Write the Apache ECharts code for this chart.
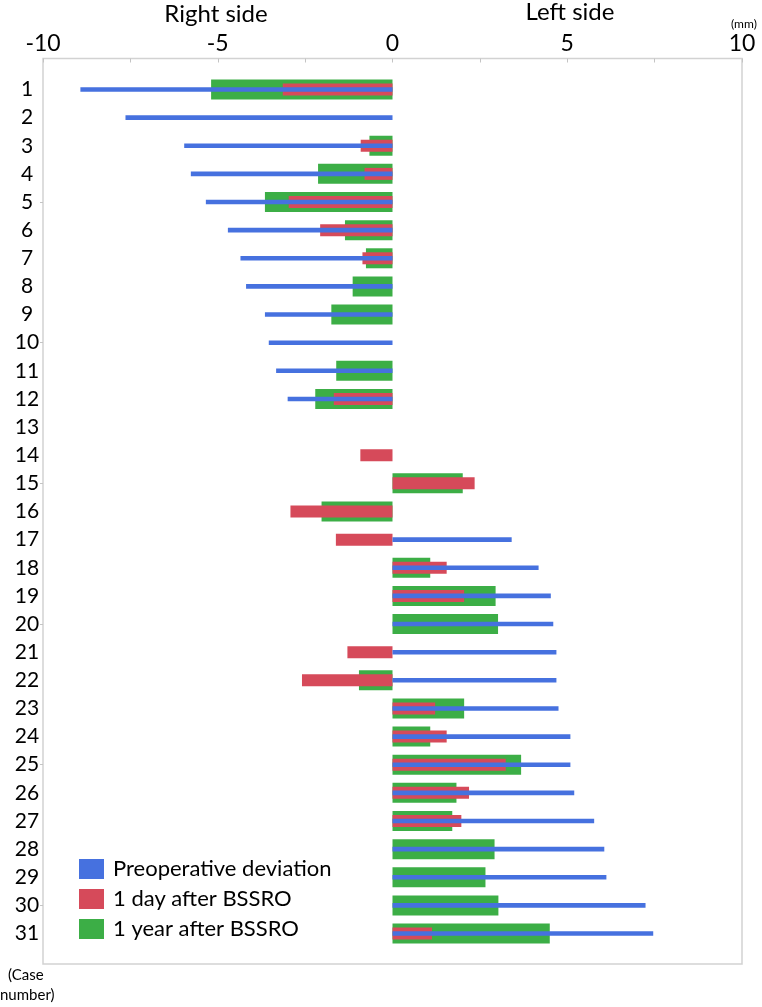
<!DOCTYPE html>
<html>
<head>
<meta charset="utf-8">
<script src="https://cdn.jsdelivr.net/npm/echarts@6/dist/echarts.min.js"></script>
<style>
html,body{margin:0;padding:0;background:#fff;}
#chart{width:762px;height:1007px;}
</style>
</head>
<body>
<div id="chart"></div>
<script>
var cases = ['1','2','3','4','5','6','7','8','9','10','11','12','13','14','15','16','17','18','19','20','21','22','23','24','25','26','27','28','29','30','31'];
var xTicks = [-10, -5, 0, 5, 10];
var preop = [-8.93,-7.64,-5.96,-5.77,-5.34,-4.71,-4.35,-4.19,-3.65,-3.54,-3.33,-3.00,null,null,null,null,3.41,4.18,4.53,4.60,4.69,4.69,4.75,5.09,5.09,5.20,5.77,6.06,6.12,7.24,7.46];
var day1 = [-3.14,null,-0.91,-0.80,-2.97,-2.07,-0.86,null,null,null,null,-1.68,null,-0.92,2.35,-2.92,-1.62,1.55,2.05,null,-1.29,-2.59,1.22,1.55,3.24,2.19,1.97,null,null,null,1.13];
var year1 = [-5.19,null,-0.66,-2.13,-3.65,-1.36,-0.76,-1.14,-1.75,null,-1.61,-2.21,null,null,2.01,-2.03,null,1.08,2.95,3.02,null,-0.96,2.05,1.08,3.68,1.83,1.71,2.92,2.66,3.03,4.50];
var seriesNames = ['Preoperative deviation', '1 day after BSSRO', '1 year after BSSRO'];

var FONT = 'Lato, "Noto Sans", sans-serif';
var BLUE = '#4671df', RED = '#d64a5a', GREEN = '#3cae46';

var chart = echarts.init(document.getElementById('chart'), null, {renderer:'canvas'});
var option = {
  animation: false,
  backgroundColor: '#fff',
  textStyle: {fontFamily: FONT},
  grid: [
    {left: 43, right: 20, top: 58.5, bottom: 43, show: true, borderColor: '#d2d2d2', borderWidth: 1.5, backgroundColor: 'transparent'},
    {left: 43, right: 20, top: 75.4, bottom: 59.4}
  ],
  xAxis: [
    {gridIndex: 0, type: 'value', position: 'top', min: -10, max: 10, interval: 2.5,
     axisLine: {show: false, onZero: false},
     axisTick: {show: true, inside: true, length: 4, lineStyle: {color: '#c4c4c4'}},
     splitLine: {show: false},
     axisLabel: {show: true, fontSize: 23, color: '#000', fontFamily: FONT, margin: 3,
       formatter: function (v) { return xTicks.indexOf(v) >= 0 ? String(v) : ''; }}
    },
    {gridIndex: 1, type: 'value', min: -10, max: 10, show: false}
  ],
  yAxis: [
    {gridIndex: 0, type: 'value', min: 0, max: 1, show: false},
    {gridIndex: 1, type: 'category', data: cases, inverse: true,
     axisLine: {show: false, onZero: false},
     axisTick: {show: true, alignWithLabel: true, length: 3, lineStyle: {color: '#c4c4c4'},
       interval: function (i) { return (i + 1) % 5 === 0; }},
     axisLabel: {interval: 0, fontSize: 21, color: '#000', fontFamily: FONT, align: 'center', margin: 16},
     splitLine: {show: false}
    },
    {gridIndex: 1, type: 'category', data: cases, inverse: true, show: false},
    {gridIndex: 1, type: 'category', data: cases, inverse: true, show: false}
  ],
  legend: {
    orient: 'vertical', left: 79, top: 858, padding: 0,
    itemWidth: 25, itemHeight: 20, itemGap: 8,
    icon: 'rect',
    data: seriesNames,
    textStyle: {fontSize: 22, color: '#000', fontFamily: FONT, padding: [0, 0, 0, 4]}
  },
  series: [
    {name: seriesNames[2], type: 'bar', xAxisIndex: 1, yAxisIndex: 3, data: year1, barWidth: 20,
     itemStyle: {color: GREEN}},
    {name: seriesNames[1], type: 'bar', xAxisIndex: 1, yAxisIndex: 2, data: day1, barWidth: 12,
     itemStyle: {color: RED}},
    {name: seriesNames[0], type: 'bar', xAxisIndex: 1, yAxisIndex: 1, data: preop, barWidth: 4.6,
     itemStyle: {color: BLUE}}
  ],
  graphic: [
    {type: 'text', x: 216, y: 2, style: {text: 'Right side', fontSize: 24, fontFamily: FONT, fill: '#000', align: 'center'}},
    {type: 'text', x: 570, y: 0, style: {text: 'Left side', fontSize: 24, fontFamily: FONT, fill: '#000', align: 'center'}},
    {type: 'text', left: 731, top: 18, style: {text: '(mm)', fontSize: 12, fontFamily: FONT, fill: '#000'}},
    {type: 'text', left: 8, top: 968, style: {text: '(Case', fontSize: 15, fontFamily: FONT, fill: '#000'}},
    {type: 'text', left: 0, top: 988, style: {text: 'number)', fontSize: 15, fontFamily: FONT, fill: '#000'}}
  ]
};
chart.setOption(option);
</script>
</body>
</html>
